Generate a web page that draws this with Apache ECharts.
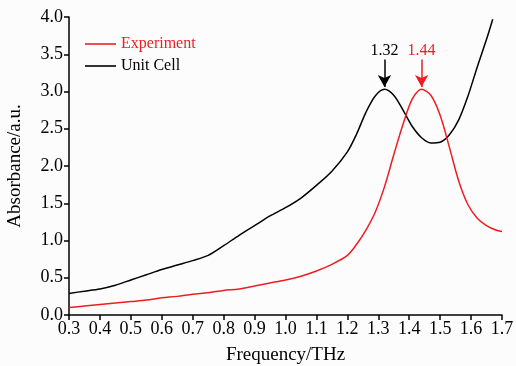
<!DOCTYPE html>
<html>
<head>
<meta charset="utf-8">
<script src="https://cdn.jsdelivr.net/npm/echarts@6/dist/echarts.min.js"></script>
<style>
  html, body { margin: 0; padding: 0; background: #fcfcfc; }
  #chart { width: 516px; height: 366px; }
</style>
</head>
<body>
<div id="chart"></div>
<script>
// Frequency (THz) / absorbance pairs
var experimentData = [
    [0.30, 0.10], [0.35, 0.12], [0.40, 0.14], [0.45, 0.16], [0.50, 0.18],
    [0.55, 0.20], [0.60, 0.23], [0.65, 0.25], [0.70, 0.28], [0.75, 0.30],
    [0.80, 0.33], [0.85, 0.35], [0.90, 0.39], [0.95, 0.43], [1.00, 0.47],
    [1.05, 0.52], [1.10, 0.59], [1.15, 0.68], [1.20, 0.80], [1.23, 0.95],
    [1.26, 1.14], [1.29, 1.38], [1.32, 1.72], [1.35, 2.15], [1.38, 2.56],
    [1.41, 2.90], [1.44, 3.03], [1.47, 2.95], [1.50, 2.68], [1.53, 2.25],
    [1.56, 1.80], [1.59, 1.48], [1.62, 1.30], [1.65, 1.20], [1.68, 1.14],
    [1.70, 1.12]
];
var unitCellData = [
    [0.30, 0.29], [0.35, 0.32], [0.40, 0.35], [0.45, 0.40], [0.50, 0.47],
    [0.55, 0.54], [0.60, 0.61], [0.65, 0.67], [0.70, 0.73], [0.75, 0.80],
    [0.80, 0.93], [0.85, 1.07], [0.90, 1.20], [0.95, 1.33], [1.00, 1.44],
    [1.05, 1.57], [1.10, 1.74], [1.15, 1.93], [1.20, 2.19], [1.23, 2.43],
    [1.26, 2.72], [1.29, 2.94], [1.32, 3.03], [1.35, 2.95], [1.38, 2.75],
    [1.41, 2.53], [1.44, 2.38], [1.47, 2.31], [1.50, 2.32], [1.53, 2.42],
    [1.56, 2.62], [1.59, 2.94], [1.62, 3.33], [1.65, 3.70], [1.67, 3.97]
];
// peak markers: [frequency, arrow top, arrow tip]
var peakUnitCell = [1.32, 3.43, 3.06];
var peakExperiment = [1.44, 3.43, 3.06];

var RED = '#ee1d23';
var FONT = 'Liberation Serif';

var chart = echarts.init(document.getElementById('chart'));

function peakMark(peak, color) {
    return {
        silent: true,
        symbol: ['none', 'arrow'],
        symbolSize: [10, 12],
        lineStyle: { color: color, width: 1.5, type: 'solid' },
        label: {
            show: true,
            position: 'start',
            distance: 1,
            formatter: peak[0].toFixed(2),
            color: color,
            fontFamily: FONT,
            fontSize: 16
        },
        data: [[{ coord: [peak[0], peak[1]] }, { coord: [peak[0], peak[2]] }]]
    };
}

chart.setOption({
    backgroundColor: '#fcfcfc',
    animation: false,
    grid: { left: 69, right: 14, top: 17, bottom: 51, outerBoundsMode: 'none', containLabel: false },
    legend: {
        orient: 'vertical',
        left: 80,
        top: 31,
        itemWidth: 31,
        itemHeight: 10,
        itemGap: 6,
        icon: 'path://M0,4.2L31,4.2L31,5.8L0,5.8Z',
        textStyle: { fontFamily: FONT, fontSize: 16, color: '#000' },
        data: [
            { name: 'Experiment', textStyle: { color: RED } },
            { name: 'Unit Cell', textStyle: { color: '#000' } }
        ]
    },
    xAxis: {
        type: 'value',
        min: 0.3,
        max: 1.7,
        interval: 0.1,
        name: 'Frequency/THz',
        nameLocation: 'middle',
        nameGap: 31,
        nameTextStyle: { fontFamily: FONT, fontSize: 19, color: '#000' },
        axisLine: { lineStyle: { color: '#000', width: 1.5 } },
        axisTick: { length: 5, lineStyle: { color: '#000', width: 1.5 } },
        axisLabel: {
            fontFamily: FONT, fontSize: 18, color: '#000', margin: 5,
            formatter: function (v) { return v.toFixed(1); }
        },
        splitLine: { show: false }
    },
    yAxis: {
        type: 'value',
        min: 0,
        max: 4,
        interval: 0.5,
        name: 'Absorbance/a.u.',
        nameLocation: 'middle',
        nameGap: 44,
        nameTextStyle: { fontFamily: FONT, fontSize: 19, color: '#000' },
        axisLine: { show: true, lineStyle: { color: '#000', width: 1.5 } },
        axisTick: { show: true, length: 5, lineStyle: { color: '#000', width: 1.5 } },
        axisLabel: {
            fontFamily: FONT, fontSize: 18, color: '#000', margin: 6,
            formatter: function (v) { return v.toFixed(1); }
        },
        splitLine: { show: false }
    },
    series: [
        {
            name: 'Experiment',
            type: 'line',
            data: experimentData,
            smooth: 0.3,
            showSymbol: false,
            color: RED,
            lineStyle: { color: RED, width: 1.5 },
            markLine: peakMark(peakExperiment, RED),
            z: 3
        },
        {
            name: 'Unit Cell',
            type: 'line',
            data: unitCellData,
            smooth: 0.3,
            showSymbol: false,
            color: '#000',
            lineStyle: { color: '#000', width: 1.5 },
            markLine: peakMark(peakUnitCell, '#000'),
            z: 2
        }
    ]
});
</script>
</body>
</html>
